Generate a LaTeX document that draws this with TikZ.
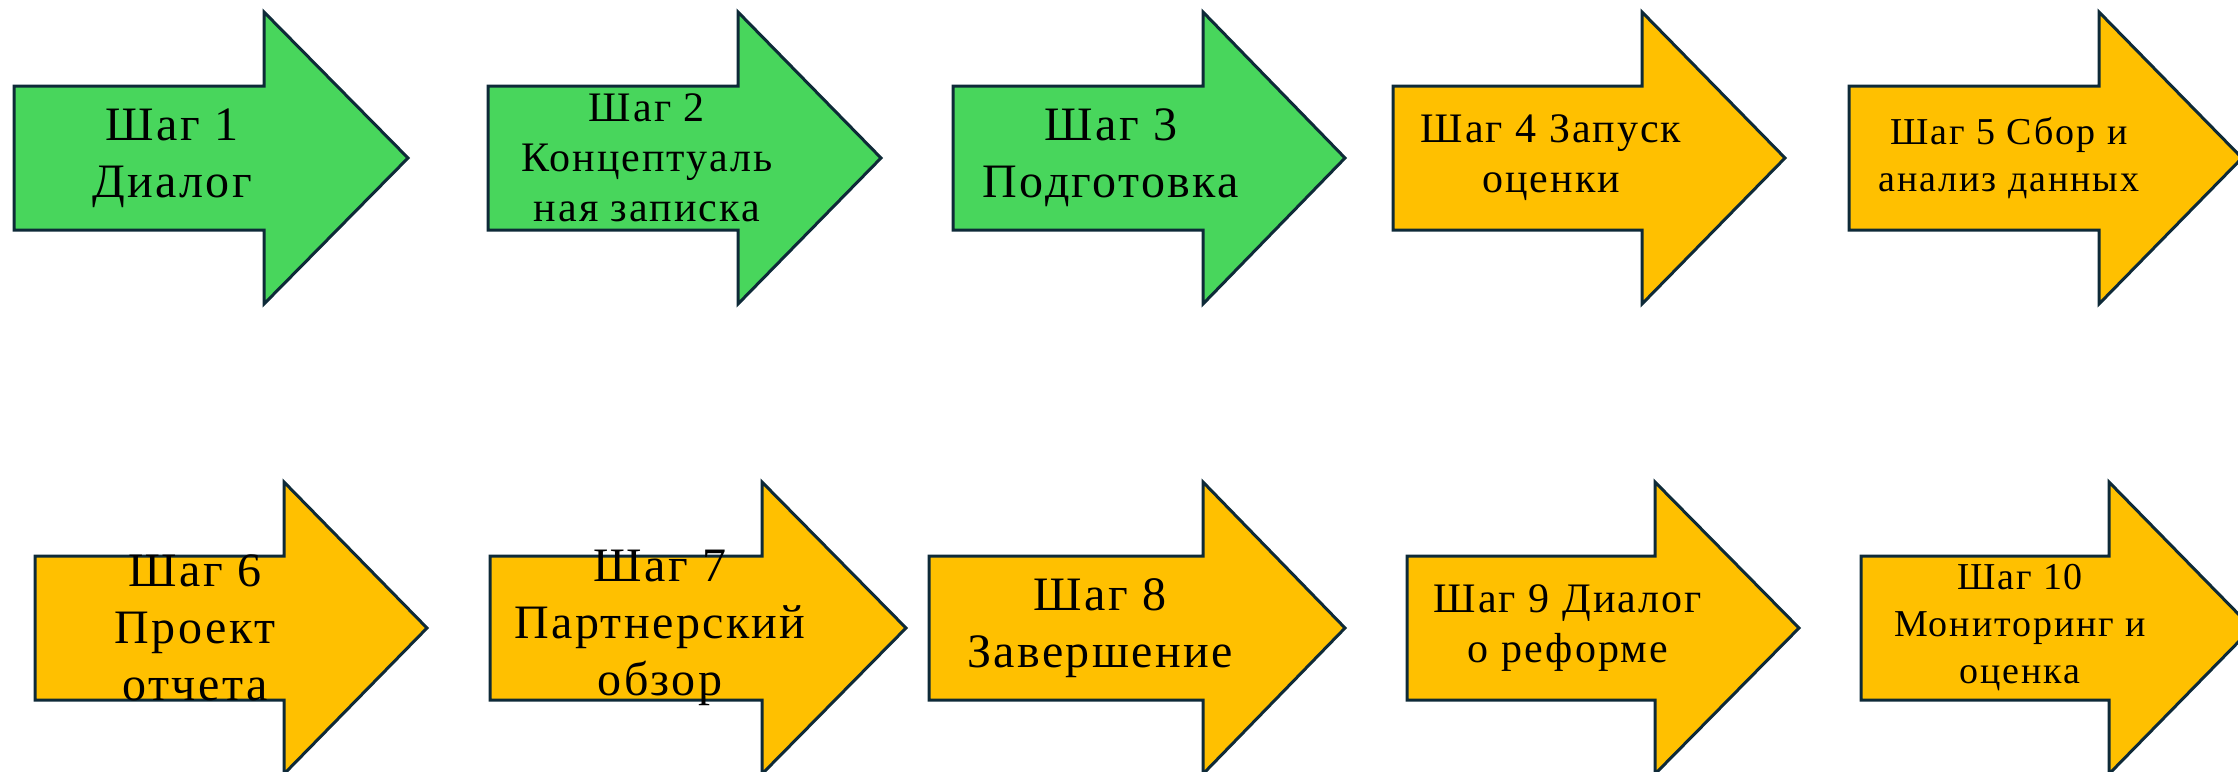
\documentclass[tikz,border=0pt]{standalone}
\usepackage{fontspec}
\setmainfont[LetterSpace=5]{Liberation Serif}
\definecolor{stepgreen}{HTML}{48D65C}
\definecolor{stepgold}{HTML}{FFC000}
\definecolor{stepline}{HTML}{0E2A38}
\tikzset{
  arrowshape/.style={draw=stepline, line width=3pt, line join=miter},
  steptext/.style={align=center, inner sep=0pt, text=black},
  fbig/.style={font=\fontsize{48}{57}\selectfont},
  fmid/.style={font=\fontsize{42}{50}\selectfont},
  fsmall/.style={font=\fontsize{38}{47}\selectfont},
}
\newcommand{\stepArrow}[9]{%
  \draw[arrowshape, fill=#6] (#2,#5-72) -- (#3,#5-72) -- (#3,#5-146) -- (#4,#5)
     -- (#3,#5+146) -- (#3,#5+72) -- (#2,#5+72) -- cycle;
  \node[steptext,#7] (#1) at (#8,#5) {#9};
}
\begin{document}
\begin{tikzpicture}[x=1pt,y=-1pt]
\useasboundingbox (0,0) rectangle (2238,771);
\stepArrow{s1}{14}{264}{408}{158}{stepgreen}{fbig}{172}{Шаг 1\\Диалог}
\stepArrow{s2}{488}{738}{881}{158}{stepgreen}{fmid}{647}{Шаг 2\\Концептуаль\\ная записка}
\stepArrow{s3}{953}{1203}{1345}{158}{stepgreen}{fbig}{1111}{Шаг 3\\Подготовка}
\stepArrow{s4}{1393}{1642}{1785}{158}{stepgold}{fmid}{1551}{Шаг 4 Запуск\\оценки}
\stepArrow{s5}{1849}{2099}{2242}{158}{stepgold}{fsmall}{2009}{Шаг 5 Сбор и\\анализ данных}
\stepArrow{s6}{35}{284}{427}{628}{stepgold}{fbig}{195}{Шаг 6\\Проект\\отчета}
\stepArrow{s7}{490}{762}{906}{628}{stepgold}{fbig}{660}{Шаг 7\\Партнерский\\обзор}
\stepArrow{s8}{929}{1203}{1345}{628}{stepgold}{fbig}{1100}{Шаг 8\\Завершение}
\stepArrow{s9}{1407}{1655}{1799}{628}{stepgold}{fmid}{1568}{Шаг 9 Диалог\\о реформе}
\stepArrow{s10}{1861}{2109}{2252}{628}{stepgold}{fsmall}{2020}{Шаг 10\\Мониторинг и\\оценка}
\end{tikzpicture}
\end{document}
